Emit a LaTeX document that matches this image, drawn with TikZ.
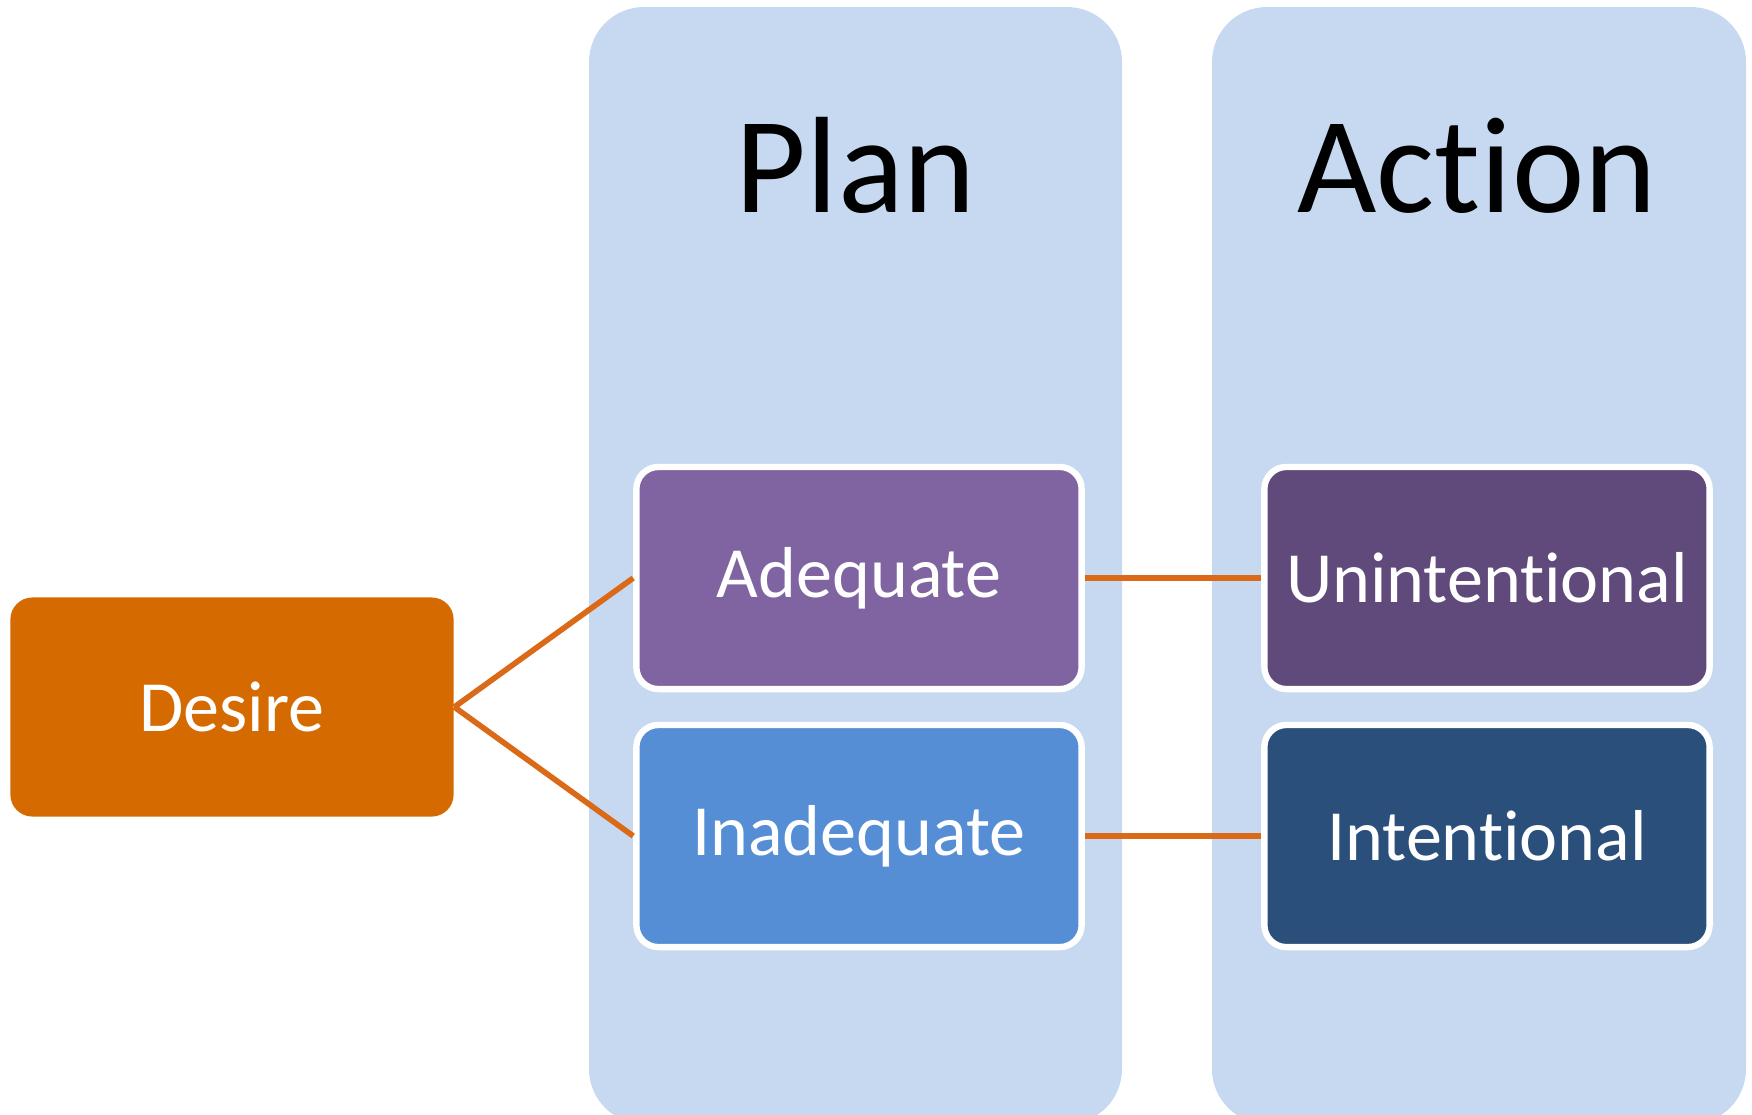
\documentclass[tikz,border=0pt]{standalone}
\usepackage{fontspec}
\setmainfont[Ligatures=NoCommon]{Carlito}
\definecolor{colbg}{HTML}{C6D9F1}
\definecolor{desirec}{HTML}{D46A00}
\definecolor{adeqc}{HTML}{8064A2}
\definecolor{inadeqc}{HTML}{558ED5}
\definecolor{unintc}{HTML}{604A7B}
\definecolor{intc}{HTML}{2A4F7B}
\definecolor{linkc}{HTML}{DA6A18}
\begin{document}
\begin{tikzpicture}[x=0.01cm, y=-0.01cm, line join=round, line cap=round,
	box/.style={rounded corners=0.22cm, minimum width=4.45cm, minimum height=2.22cm, inner sep=0pt, text=white, font=\fontsize{20.5}{24}\selectfont},
	framed/.style={draw=white, line width=1.8pt},
	title/.style={anchor=base, font=\fontsize{39}{44}\selectfont},
	edge/.style={draw=linkc, line width=1.6pt, line cap=butt}]
	\def\W{1752} \def\H{1114} % kích thước
	\useasboundingbox (0,0) rectangle (\W,\H);
	\clip (0,0) rectangle (\W,\H);
	% hai cột
	\fill[colbg, rounded corners=0.55cm] (589,7) rectangle (1122,1124);
	\fill[colbg, rounded corners=0.55cm] (1212,7) rectangle (1746,1124);
	\node[title] (plan) at (856,212) {Plan};
	\node[title] (action) at (1477,212) {Action};
	% các ô
	\node[box, fill=desirec, minimum width=4.43cm, minimum height=2.19cm] (desire) at (232,707) {Desire};
	\node[box, framed, fill=adeqc] (adeq) at (859,578) {Adequate};
	\node[box, framed, fill=inadeqc] (inadeq) at (859,836) {Inadequate};
	\node[box, framed, fill=unintc] (unint) at (1487,578) {Unintentional};
	\node[box, framed, fill=intc] (intent) at (1487,836) {Intentional};
	\draw[edge] (desire.east) -- (adeq.west);
	\draw[edge] (desire.east) -- (inadeq.west);
	\draw[edge] (adeq.east) -- (unint.west);
	\draw[edge] (inadeq.east) -- (intent.west);
\end{tikzpicture}
\end{document}
